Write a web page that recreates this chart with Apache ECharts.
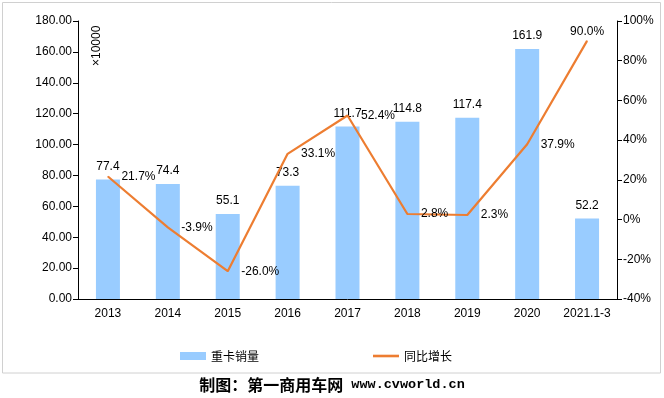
<!DOCTYPE html>
<html>
<head>
<meta charset="utf-8">
<script src="https://cdn.jsdelivr.net/npm/echarts@6/dist/echarts.min.js"></script>
<style>
    html, body {margin: 0; padding: 0; background: #fff;}
    #main {width: 664px; height: 398px;}
</style>
</head>
<body>
<div id="main"></div>
<script>
// 数据
var years = ['2013', '2014', '2015', '2016', '2017', '2018', '2019', '2020', '2021.1-3'];
var sales = [77.4, 74.4, 55.1, 73.3, 111.7, 114.8, 117.4, 161.9, 52.2];
var growth = [21.7, -3.9, -26.0, 33.1, 52.4, 2.8, 2.3, 37.9, 90.0];

var font = 'Liberation Sans, Arial, sans-serif';

var main = echarts.init(document.getElementById('main'));

// 最后一个点标签放在上面
var growthData = growth.map(function (v, i) {
    if (i === growth.length - 1) {
        return {value: v, label: {position: 'top', distance: 3, offset: [3, 0]}};
    }
    return v;
});

option = {
    animation: false,
    backgroundColor: '#fff',
    textStyle: {fontFamily: font},
    grid: {left: 78, right: 47, top: 21, bottom: 99},
    legend: {
        left: 175,
        top: 345,
        itemWidth: 26,
        itemHeight: 8,
        itemGap: 114,
        textStyle: {fontSize: 12, color: '#000', fontFamily: 'Noto Sans CJK SC'},
        data: [
            {name: '重卡销量', icon: 'rect'},
            {name: '同比增长', icon: 'path://M0,0 L30,0 L30,3 L0,3 Z'}
        ]
    },
    xAxis: {
        type: 'category',
        data: years,
        axisLine: {lineStyle: {color: '#000', width: 1}},
        axisTick: {inside: true, length: 5, lineStyle: {color: '#000'}},
        axisLabel: {color: '#000', fontSize: 12, margin: 9, interval: 0}
    },
    yAxis: [
        {
            type: 'value',
            min: 0,
            max: 180,
            interval: 20,
            axisLine: {show: true, lineStyle: {color: '#000'}},
            axisTick: {show: true, length: 5, lineStyle: {color: '#000'}},
            axisLabel: {
                color: '#000', fontSize: 12, margin: 6,
                formatter: function (v) { return v.toFixed(2); }
            },
            splitLine: {show: false}
        },
        {
            type: 'value',
            min: -40,
            max: 100,
            interval: 20,
            axisLine: {show: true, lineStyle: {color: '#000'}},
            axisTick: {show: true, length: 5, lineStyle: {color: '#000'}},
            axisLabel: {color: '#000', fontSize: 12, margin: 6, formatter: '{value}%'},
            splitLine: {show: false}
        }
    ],
    graphic: [
        {
            type: 'rect',
            shape: {x: 2.5, y: 2.5, width: 658, height: 370.5},
            style: {fill: 'none', stroke: '#d0d0d0', lineWidth: 1},
            silent: true
        },
        {
            type: 'text',
            x: 91,
            y: 66,
            rotation: Math.PI / 2,
            style: {text: '×10000', fill: '#000', font: '12px ' + font}
        },
        {
            type: 'text',
            left: 'center',
            top: 377,
            style: {
                text: '{a|制图：第一商用车网}{b| www.cvworld.cn}',
                rich: {
                    a: {font: 'bold 16px "Noto Sans CJK SC"', fill: '#000'},
                    b: {font: 'bold 13.5px "Liberation Mono"', fill: '#000'}
                }
            }
        }
    ],
    series: [
        {
            name: '重卡销量',
            type: 'bar',
            data: sales,
            barWidth: 24,
            itemStyle: {color: '#99CCFF'},
            label: {show: true, position: 'top', distance: 7, color: '#000', fontSize: 12}
        },
        {
            name: '同比增长',
            type: 'line',
            yAxisIndex: 1,
            data: growthData,
            symbol: 'circle',
            symbolSize: 1,
            showSymbol: true,
            lineStyle: {color: '#ED7D31', width: 2.2},
            itemStyle: {color: '#ED7D31'},
            labelLayout: {hideOverlap: false},
            label: {
                show: true, position: 'right', distance: 13, color: '#000', fontSize: 12,
                formatter: function (p) { return p.value.toFixed(1) + '%'; }
            }
        }
    ]
};

main.setOption(option);
</script>
</body>
</html>
